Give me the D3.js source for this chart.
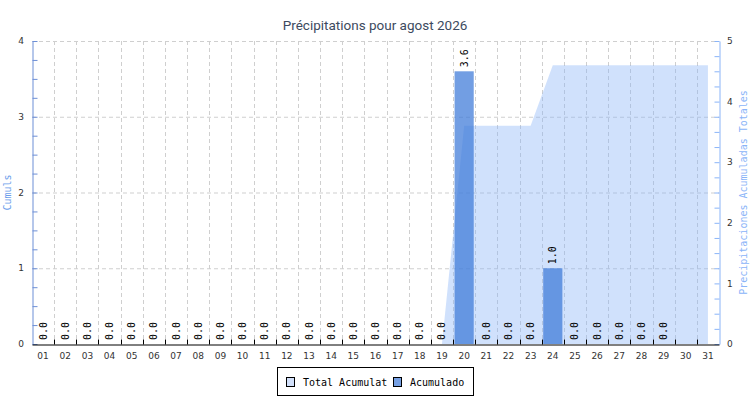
<!DOCTYPE html>
<html>
<head>
<meta charset="utf-8">
<script src="https://d3js.org/d3.v7.min.js"></script>
<style>
  body { margin: 0; background: #fff; }
  svg { display: block; }
</style>
</head>
<body>
<svg id="chart"></svg>
<script>
// Chart size
var width = 750;
var height = 400;
var margin = {top: 41, right: 31, bottom: 56, left: 32};

// Data: days of the month, daily rain, running total
var days = ["01","02","03","04","05","06","07","08","09","10","11","12","13","14","15","16",
            "17","18","19","20","21","22","23","24","25","26","27","28","29","30","31"];
var acumulado = [0,0,0,0,0,0,0,0,0,0,0,0,0,0,0,0,0,0,0,3.6,0,0,0,1.0,0,0,0,0,0,null,null];
var totalAcumulat = [0,0,0,0,0,0,0,0,0,0,0,0,0,0,0,0,0,0,0,3.6,3.6,3.6,3.6,4.6,4.6,4.6,4.6,4.6,4.6,4.6,4.6];
var leftTicks = [0, 1, 2, 3, 4];
var rightTicks = [0, 1, 2, 3, 4, 5];

var title = "Précipitations pour agost 2026";
var leftTitle = "Cumuls";
var rightTitle = "Precipitaciones Acumuladas Totales";
var legendLabels = ["Total Acumulat", "Acumulado"];

var mono = "'DejaVu Sans Mono', monospace";
var sans = "'DejaVu Sans', sans-serif";

var svg = d3.select("#chart")
    .attr("width", width)
    .attr("height", height);

var x = d3.scaleBand()
    .domain(days)
    .range([margin.left, width - margin.right]);

var yLeft = d3.scaleLinear()
    .domain([0, 4])
    .range([height - margin.bottom, margin.top]);

var yRight = d3.scaleLinear()
    .domain([0, 5])
    .range([height - margin.bottom, margin.top]);

// Title
svg.append("text")
    .attr("x", width / 2)
    .attr("y", 30)
    .attr("text-anchor", "middle")
    .style("font-family", "Roboto, sans-serif")
    .style("font-size", "13.5px")
    .style("fill", "#3d4a60")
    .text(title);

// Grid lines (dashed)
var grid = svg.append("g").attr("class", "grid");

grid.selectAll("line.h")
    .data(leftTicks.slice(1))
    .enter().append("line")
    .attr("class", "h")
    .attr("x1", margin.left)
    .attr("x2", width - margin.right)
    .attr("y1", function(d) { return yLeft(d) + 0.5; })
    .attr("y2", function(d) { return yLeft(d) + 0.5; })
    .style("stroke", "#cfcfcf")
    .style("stroke-dasharray", "4,3");

grid.selectAll("line.v")
    .data(days.slice(1))
    .enter().append("line")
    .attr("class", "v")
    .attr("x1", function(d) { return Math.round(x(d)) + 0.5; })
    .attr("x2", function(d) { return Math.round(x(d)) + 0.5; })
    .attr("y1", margin.top)
    .attr("y2", height - margin.bottom)
    .style("stroke", "#cfcfcf")
    .style("stroke-dasharray", "4,3");

// Area for running total (right axis)
var area = d3.area()
    .x(function(d, i) { return x(days[i]) + x.bandwidth() / 2; })
    .y0(yRight(0))
    .y1(function(d) { return yRight(d); });

svg.append("path")
    .datum(totalAcumulat)
    .attr("d", area)
    .style("fill", "rgba(138,180,248,0.4)")
    .style("stroke", "none");

// Bars for daily rain (left axis)
var barPad = 1.5;
svg.selectAll("rect.bar")
    .data(acumulado.map(function(v, i) { return {day: days[i], value: v}; })
        .filter(function(d) { return d.value !== null; }))
    .enter().append("rect")
    .attr("class", "bar")
    .attr("x", function(d) { return x(d.day) + barPad; })
    .attr("width", x.bandwidth() - barPad * 2)
    .attr("y", function(d) { return yLeft(d.value); })
    .attr("height", function(d) { return yLeft(0) - yLeft(d.value); })
    .style("fill", "rgba(60,120,216,0.72)");

// Value labels, rotated
svg.selectAll("text.val")
    .data(acumulado.map(function(v, i) { return {day: days[i], value: v}; })
        .filter(function(d) { return d.value !== null; }))
    .enter().append("text")
    .attr("class", "val")
    .attr("transform", function(d) {
        return "translate(" + (x(d.day) + x.bandwidth() / 2) + "," + (yLeft(d.value) - 4) + ") rotate(-90)";
    })
    .attr("dy", "0.35em")
    .style("font-family", mono)
    .style("font-size", "10px")
    .style("fill", "#000")
    .text(function(d) { return d.value.toFixed(1); });

// Left axis
function minorTicks(scale) {
    return d3.range(scale.domain()[0], scale.domain()[1] + 0.001, 0.25);
}

var leftAxis = svg.append("g")
    .attr("transform", "translate(" + (margin.left + 0.5) + ",0)")
    .call(d3.axisLeft(yLeft).tickValues(minorTicks(yLeft)).tickSizeInner(-5).tickSizeOuter(0).tickFormat(""));
leftAxis.selectAll("line, path").style("stroke", "#6d8fd6");
leftAxis.selectAll("text").remove();

svg.append("g")
    .selectAll("text")
    .data(leftTicks)
    .enter().append("text")
    .attr("x", margin.left - 8)
    .attr("y", function(d) { return yLeft(d); })
    .attr("dy", "0.35em")
    .attr("text-anchor", "end")
    .style("font-family", sans)
    .style("font-size", "9px")
    .style("fill", "#333")
    .text(function(d) { return d; });

// Right axis
var rightAxis = svg.append("g")
    .attr("transform", "translate(" + (width - margin.right + 0.5) + ",0)")
    .call(d3.axisRight(yRight).tickValues(minorTicks(yRight)).tickSizeInner(-5).tickSizeOuter(0).tickFormat(""));
rightAxis.selectAll("line, path").style("stroke", "#8ab4f8");

svg.append("g")
    .selectAll("text")
    .data(rightTicks)
    .enter().append("text")
    .attr("x", width - margin.right + 8)
    .attr("y", function(d) { return yRight(d); })
    .attr("dy", "0.35em")
    .attr("text-anchor", "start")
    .style("font-family", sans)
    .style("font-size", "9px")
    .style("fill", "#333")
    .text(function(d) { return d; });

// Bottom axis
var xAxis = svg.append("g")
    .attr("transform", "translate(0," + (height - margin.bottom + 0.5) + ")")
    .call(d3.axisBottom(x).tickSize(0).tickPadding(8));
xAxis.select(".domain").style("stroke", "#000");
xAxis.selectAll("text")
    .style("font-family", sans)
    .style("font-size", "9px")
    .style("fill", "#333");

xAxis.selectAll("line.sep")
    .data(days.slice(1))
    .enter().append("line")
    .attr("class", "sep")
    .attr("x1", function(d) { return Math.round(x(d)) + 0.5; })
    .attr("x2", function(d) { return Math.round(x(d)) + 0.5; })
    .attr("y1", 0)
    .attr("y2", -5)
    .style("stroke", "#000");

// Axis titles
svg.append("text")
    .attr("transform", "translate(11," + (yLeft(2)) + ") rotate(-90)")
    .attr("text-anchor", "middle")
    .style("font-family", mono)
    .style("font-size", "10px")
    .style("fill", "#6d9eeb")
    .text(leftTitle);

svg.append("text")
    .attr("transform", "translate(747," + (yLeft(2)) + ") rotate(-90)")
    .attr("text-anchor", "middle")
    .style("font-family", mono)
    .style("font-size", "10px")
    .style("fill", "#8ab4f8")
    .text(rightTitle);

// Legend
var legend = svg.append("g").attr("class", "legend");

legend.append("rect")
    .attr("x", 277.5)
    .attr("y", 367.5)
    .attr("width", 196)
    .attr("height", 28)
    .style("fill", "#fff")
    .style("stroke", "#000");

var legendColors = ["#d2e0fa", "#76a0e3"];
var legendX = [286, 393];

legend.selectAll("rect.sw")
    .data(legendLabels)
    .enter().append("rect")
    .attr("class", "sw")
    .attr("x", function(d, i) { return legendX[i] + 0.5; })
    .attr("y", 377.5)
    .attr("width", 8)
    .attr("height", 9)
    .style("fill", function(d, i) { return legendColors[i]; })
    .style("stroke", "#000");

legend.selectAll("text")
    .data(legendLabels)
    .enter().append("text")
    .attr("x", function(d, i) { return legendX[i] + 17; })
    .attr("y", 386)
    .style("font-family", mono)
    .style("font-size", "10px")
    .style("fill", "#000")
    .text(function(d) { return d; });
</script>
</body>
</html>
